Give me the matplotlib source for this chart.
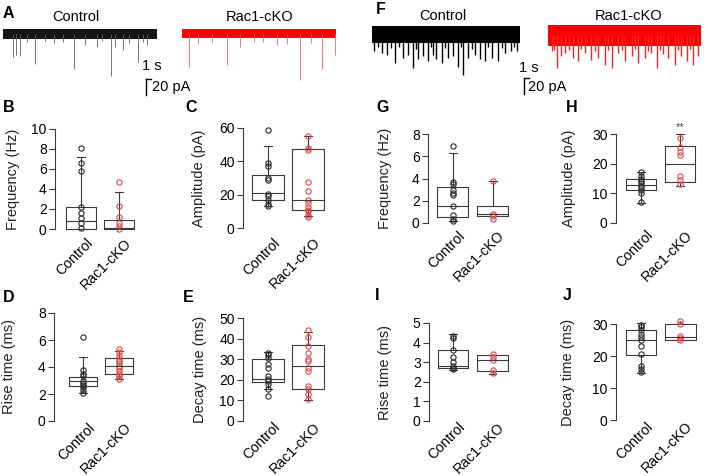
import matplotlib
matplotlib.use('Agg')
import matplotlib.pyplot as plt
from matplotlib.transforms import ScaledTranslation

plt.rcParams['font.family'] = ['Liberation Sans', 'DejaVu Sans']

W, H = 708, 476
fig = plt.figure(figsize=(W / 100, H / 100), dpi=100)

# ------------------------------------------------------------------ data
groups = ['Control', 'Rac1-cKO']

# sample traces: duration (s), event times (s), event amplitudes (pA)
A_ctrl_dur = 30.9
A_ctrl_t = [2.0, 2.7, 3.5, 6.5, 14.3, 16.5, 18.9, 21.7, 22.5, 24.1, 27.1, 28.9,
            4.8, 8.4, 10.2, 12.0, 19.8, 25.2, 28.0]
A_ctrl_amp = [29, 26, 27.5, 37.5, 44, 14, 16, 52.5, 16, 20, 35, 14,
              10, 9, 11, 10, 9, 11, 10]
A_ko_dur = 30.9
A_ko_t = [1.5, 3.2, 9.0, 11.6, 19.0, 21.0, 23.6, 28.0, 30.6, 6.0, 14.4, 16.2, 25.8]
A_ko_amp = [41.6, 12.5, 39.5, 16.6, 14, 12.5, 58, 44, 26.6, 10, 11, 10, 12]

F_ctrl_dur = 29.5
F_ctrl_t = [0.4, 1.9, 2.9, 4.6, 6.2, 7.2, 8.2, 9.2, 10.2, 11.2, 12.2, 12.8, 13.9,
            15.2, 16.2, 17.2, 18.2, 19.2, 20.5, 21.5, 22.6, 23.9, 25.2, 26.5, 27.8, 28.9,
            1.2, 3.7, 5.4, 8.7, 11.7, 14.5, 17.7, 20.0, 23.2, 26.0, 28.3]
F_ctrl_amp = [21, 23, 25, 35.5, 29, 25, 42, 31, 27, 33, 25, 31, 35.5,
              29, 27, 40, 50, 29, 25, 31, 33, 29, 33, 23, 21, 21,
              16, 17, 15, 18, 16, 17, 15, 18, 16, 17, 15]
F_ko_dur = 30.5
F_ko_t = [0.7, 1.7, 2.6, 3.4, 5.0, 6.0, 7.3, 8.6, 10.0, 11.3, 12.7, 14.0, 15.4,
          16.7, 18.0, 19.3, 20.6, 21.7, 23.0, 24.0, 25.3, 26.6, 27.7, 29.0, 30.0,
          1.2, 4.2, 6.6, 9.3, 12.0, 14.7, 17.4, 20.0, 22.4, 25.9, 28.4]
F_ko_amp = [20, 41, 26, 22, 28, 32.5, 22, 30.5, 28, 37, 41, 22, 32.5,
            26, 35, 28, 22, 41, 24, 28, 37, 26, 32.5, 37, 26,
            18, 19, 17, 20, 18, 19, 17, 20, 18, 19, 17]

# box panels: stats = [whisker low, Q1, median, Q3, whisker high]
B_ctrl_stats = [0.0, 0.05, 0.85, 2.25, 7.2]
B_ko_stats = [0.0, 0.0, 0.1, 0.95, 3.7]
B_ctrl_pts = [8.15, 6.6, 5.85, 2.2, 1.6, 1.1, 0.6, 0.1]
B_ko_pts = [4.7, 2.3, 1.2, 0.6, 0.3, 0.05]

C_ctrl_stats = [13.0, 16.8, 21.0, 31.6, 49.0]
C_ko_stats = [7.4, 11.0, 17.0, 47.4, 55.0]
C_ctrl_pts = [59, 39, 37, 30, 29, 20.5, 19, 17, 14.5, 13]
C_ko_pts = [55, 48, 47, 27.5, 22.5, 17, 15, 12.5, 11, 10, 8, 6.5]

D_ctrl_stats = [2.05, 2.6, 3.0, 3.23, 4.75]
D_ko_stats = [3.08, 3.45, 4.06, 4.63, 5.2]
D_ctrl_pts = [6.2, 3.75, 3.5, 3.3, 3.0, 2.85, 2.7, 2.5, 2.3, 2.1]
D_ko_pts = [5.35, 5.1, 4.8, 4.6, 4.45, 4.3, 4.1, 3.9, 3.7, 3.5, 3.3, 3.1]

E_ctrl_stats = [15.3, 18.9, 20.2, 30.0, 33.7]
E_ko_stats = [10.4, 15.3, 26.7, 36.8, 43.0]
E_ctrl_pts = [12, 15.5, 18, 19.5, 20.5, 22, 25.5, 27.5, 30.5, 32, 33]
E_ko_pts = [44, 41, 36.5, 33, 30, 29, 25.5, 24.5, 17, 15.5, 13, 10.5]

G_ctrl_stats = [0.15, 0.5, 1.55, 3.25, 6.3]
G_ko_stats = [0.65, 0.65, 0.8, 1.5, 3.8]
G_ctrl_pts = [6.95, 3.7, 3.5, 3.0, 2.7, 2.5, 1.5, 0.7, 0.4, 0.15]
G_ko_pts = [3.8, 0.8, 0.65, 0.4]

H_ctrl_stats = [6.6, 11.0, 12.9, 14.8, 17.3]
H_ko_stats = [12.5, 13.8, 19.9, 25.9, 30.0]
H_ctrl_pts = [17.2, 16.0, 15.0, 14.0, 13.5, 12.5, 12.0, 11.0, 10.0, 7.0]
H_ko_pts = [28.5, 25.5, 24.0, 23.0, 16.0, 14.5, 13.0]
H_sig = '**'

I_ctrl_stats = [2.6, 2.68, 2.82, 3.63, 4.44]
I_ko_stats = [2.4, 2.55, 3.12, 3.38, 3.38]
I_ctrl_pts = [4.35, 4.25, 3.6, 3.25, 3.0, 2.8, 2.7, 2.65]
I_ko_pts = [3.4, 3.25, 3.1, 2.6, 2.45]

J_ctrl_stats = [14.8, 20.2, 25.1, 28.0, 30.3]
J_ko_stats = [25.1, 25.1, 25.8, 30.0, 31.5]
J_ctrl_pts = [29.8, 29.0, 28.0, 27.0, 26.0, 25.0, 23.0, 20.5, 17.0, 16.0, 15.0]
J_ko_pts = [31.0, 30.0, 26.2, 25.5, 25.0]

# ------------------------------------------------------------------ styles
LINE = '#3a3a3a'
CTRL = '#2a2a2a'
KO = '#e04848'
TICK_FS = 10
LAB_FS = 10.5
XLAB_FS = 10.2


def box_panel(spine_px, c1_px, c2_px, y0_px, yt_px, yticks, ylim,
              cs, ks, cp, kp, ylabel, lab_off=37, lab_dy=0):
    yt_val = yticks[-1]
    ppu_x = c2_px - c1_px
    xl = 1 - (c1_px - spine_px) / ppu_x
    xr = 2.55
    ppu_y = (y0_px - yt_px) / yt_val
    top_px = y0_px - ylim[1] * ppu_y
    bot_px = y0_px - ylim[0] * ppu_y
    wpx = (xr - xl) * ppu_x
    ax = fig.add_axes([spine_px / W, 1 - bot_px / H, wpx / W, (bot_px - top_px) / H])
    ax.set_xlim(xl, xr)
    ax.set_ylim(*ylim)
    stats = [dict(whislo=s[0], q1=s[1], med=s[2], q3=s[3], whishi=s[4], fliers=[])
             for s in (cs, ks)]
    lp = dict(color=LINE, lw=0.8)
    ax.bxp(stats, positions=[1, 2], widths=0.78, capwidths=0.2, showfliers=False,
           boxprops=lp, whiskerprops=lp, capprops=lp,
           medianprops=dict(color=LINE, lw=0.8), manage_ticks=False)
    ax.plot([1] * len(cp), cp, 'o', mfc='none', mec=CTRL, ms=3.8, mew=0.8, clip_on=False)
    ax.plot([2] * len(kp), kp, 'o', mfc='none', mec=KO, ms=3.8, mew=0.8, clip_on=False)
    for sp in ['top', 'right', 'bottom']:
        ax.spines[sp].set_visible(False)
    ax.spines['left'].set_bounds(yticks[0], yticks[-1])
    ax.spines['left'].set_linewidth(0.8)
    ax.spines['left'].set_color(LINE)
    ax.set_yticks(yticks)
    ax.tick_params(axis='y', labelsize=TICK_FS, length=4, width=0.8, color=LINE, pad=2)
    ax.set_xticks([1, 2])
    ax.set_xticklabels(groups, rotation=45, ha='right', va='top',
                       rotation_mode='anchor', fontsize=XLAB_FS)
    ax.tick_params(axis='x', length=0, pad=3)
    off = ScaledTranslation(5 / 100, lab_dy / 100, fig.dpi_scale_trans)
    for lab in ax.get_xticklabels():
        lab.set_transform(lab.get_transform() + off)
    ax.set_ylabel(ylabel, fontsize=LAB_FS, color='#222222')
    ymid = (yticks[-1] / 2 - ylim[0]) / (ylim[1] - ylim[0])
    ax.yaxis.set_label_coords(-lab_off / wpx, ymid)
    return ax


def trace(left_px, base_px, dur, half, ts, amps, band_c, evt_c, lw):
    pps, ppa = 5.0, 0.8
    ylim = (-80, 20)
    top_px = base_px - ylim[1] * ppa
    bot_px = base_px - ylim[0] * ppa
    ax = fig.add_axes([left_px / W, 1 - bot_px / H, dur * pps / W, (bot_px - top_px) / H])
    ax.set_xlim(0, dur)
    ax.set_ylim(*ylim)
    ax.axis('off')
    ax.vlines(ts, [-a for a in amps], 0, color=evt_c, lw=lw)
    ax.fill_between([0, dur], -half, half, color=band_c, lw=0)
    return ax


def scalebar(ax, x0, y0, tx, ty, lx, ly):
    ax.plot([x0, x0 + 1, ], [y0, y0], color='black', lw=1, clip_on=False)
    ax.plot([x0, x0], [y0, y0 - 20], color='black', lw=1, clip_on=False)
    ax.text(tx, ty, '1 s', ha='center', va='center', fontsize=LAB_FS, clip_on=False)
    ax.text(lx, ly, '20 pA', ha='left', va='center', fontsize=LAB_FS, clip_on=False)


# ------------------------------------------------------------------ traces
axa = trace(2.5, 34.0, A_ctrl_dur, 6.0, A_ctrl_t, A_ctrl_amp, '#151515', '#606060', 0.6)
trace(181.7, 33.7, A_ko_dur, 6.0, A_ko_t, A_ko_amp, '#ff0000', '#ff6060', 0.6)
scalebar(axa, 28.6, -56.6, 29.9, -40, 29.8, -66.6)

axf = trace(372.3, 34.6, F_ctrl_dur, 10.4, F_ctrl_t, F_ctrl_amp, '#000000', '#000000', 1.0)
trace(548.3, 35.3, F_ko_dur, 13.0, F_ko_t, F_ko_amp, '#ff0000', '#ff2020', 1.0)
scalebar(axf, 30.3, -54.3, 31.4, -41.7, 31.1, -65.5)

for x, y, s in [(76, 17, 'Control'), (260, 17, 'Rac1-cKO'),
                (443, 16, 'Control'), (629, 16, 'Rac1-cKO')]:
    fig.text(x / W, 1 - y / H, s, ha='center', va='center', fontsize=LAB_FS)

# ------------------------------------------------------------------ box panels
box_panel(55, 81, 119, 229, 129, [0, 2, 4, 6, 8, 10], (-0.3, 10.3),
          B_ctrl_stats, B_ko_stats, B_ctrl_pts, B_ko_pts, 'Frequency (Hz)', 35)
box_panel(243, 268, 308, 228, 128, [0, 20, 40, 60], (-2, 62),
          C_ctrl_stats, C_ko_stats, C_ctrl_pts, C_ko_pts, 'Amplitude (pA)', 37)
box_panel(54, 83, 119, 421, 313, [0, 2, 4, 6, 8], (-0.25, 8.25),
          D_ctrl_stats, D_ko_stats, D_ctrl_pts, D_ko_pts, 'Rise time (ms)', 38, 8)
box_panel(243, 268, 308, 421, 318, [0, 10, 20, 30, 40, 50], (-1.5, 51.5),
          E_ctrl_stats, E_ko_stats, E_ctrl_pts, E_ko_pts, 'Decay time (ms)', 36, 8)
box_panel(428, 452.5, 492.5, 223, 134, [0, 2, 4, 6, 8], (-0.3, 8.3),
          G_ctrl_stats, G_ko_stats, G_ctrl_pts, G_ko_pts, 'Frequency (Hz)', 36, 2)
axh = box_panel(616, 641, 680, 223, 134, [0, 10, 20, 30], (-1, 31),
                H_ctrl_stats, H_ko_stats, H_ctrl_pts, H_ko_pts, 'Amplitude (pA)', 40, 2)
axh.text(2, 32.2, H_sig, ha='center', va='center', fontsize=8, color='#444444', clip_on=False)
box_panel(429, 453, 492.5, 421, 323, [0, 1, 2, 3, 4, 5], (-0.15, 5.15),
          I_ctrl_stats, I_ko_stats, I_ctrl_pts, I_ko_pts, 'Rise time (ms)', 37, 8)
box_panel(616, 641, 680.5, 420, 324, [0, 10, 20, 30], (-1, 31),
          J_ctrl_stats, J_ko_stats, J_ctrl_pts, J_ko_pts, 'Decay time (ms)', 41, 8)

# ------------------------------------------------------------------ panel letters
for x, y, s in [(3, 13, 'A'), (376, 9, 'F'), (3, 108, 'B'), (185, 108, 'C'),
                (376, 108, 'G'), (566, 108, 'H'), (3, 297, 'D'), (183, 297, 'E'),
                (375, 295, 'I'), (563, 296, 'J')]:
    fig.text(x / W, 1 - y / H, s, ha='left', va='center', fontsize=11.5, fontweight='bold')

fig.savefig('out.png', dpi=100)
